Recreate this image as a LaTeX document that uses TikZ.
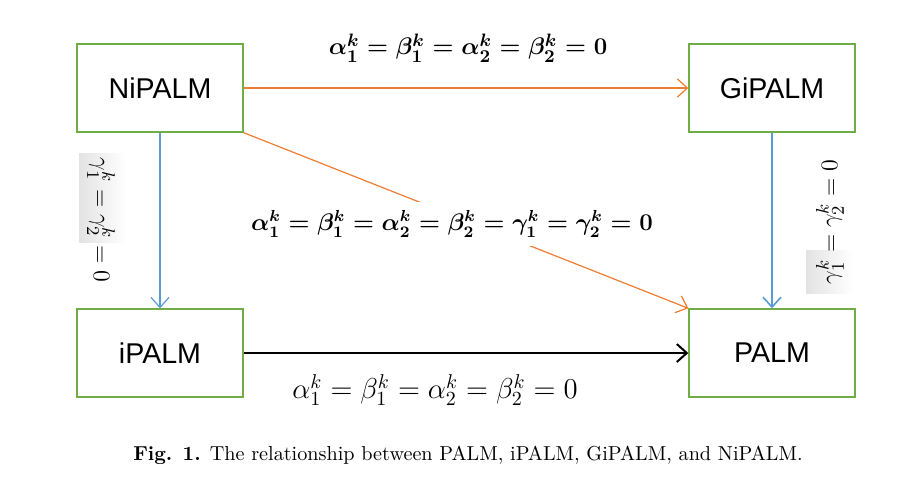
\documentclass[tikz,border=0pt]{standalone}
\usepackage{amsmath}
\usepackage{fontspec}
\newfontfamily\boxfont{Liberation Sans}
\usepackage{tikz}
\usetikzlibrary{arrows.meta,calc,positioning}
\definecolor{boxgreen}{RGB}{112,173,71}
\definecolor{arrorange}{RGB}{237,125,49}
\definecolor{arrblue}{RGB}{91,155,213}
\tikzset{>={Straight Barb[length=5pt,width=9pt]}}
\tikzstyle{algo}=[
	 rectangle, draw=boxgreen, line width=0.7pt,
	 minimum width=83pt, minimum height=44pt,
	 font=\boxfont\fontsize{14.3}{16}\selectfont
    ]
\tikzstyle{cond}=[
	 inner sep=1pt, font=\fontsize{13}{15}\selectfont
    ]
\newcommand{\pArr}[3]{\draw[->,#1] (#2) -- (#3)}

\begin{document}
\begin{tikzpicture}[x=0.5pt,y=-0.5pt]
\useasboundingbox (0,0) rectangle (909,495);

\node[algo] (NiPALM) at (160,88) {NiPALM};
\node[algo] (GiPALM) at (772,88) {GiPALM};
\node[algo] (iPALM) at (160,353) {iPALM};
\node[algo] (PALM) at (772,353) {PALM};

\pArr{arrorange,line width=0.6pt}{NiPALM.east}{GiPALM.west};
\pArr{arrorange,line width=0.6pt}{NiPALM.south east}{PALM.north west};
\pArr{arrblue,line width=0.6pt}{NiPALM.south}{iPALM.north};
\pArr{arrblue,line width=0.8pt}{GiPALM.south}{PALM.north};
\pArr{black,line width=1pt}{iPALM.east}{PALM.west};

% screenshot shading behind the gammas
\shade[left color=gray!22,right color=white] (79,153) rectangle (126,242);
\shade[left color=gray!22,right color=white] (806,250) rectangle (853,293);

\node[cond,font=\boldmath\fontsize{12.8}{15}\selectfont] (condTop) at (468,48) {$\alpha_1^k=\beta_1^k=\alpha_2^k=\beta_2^k=0$};
\node[cond,fill=white,inner sep=4pt,font=\boldmath\fontsize{11.9}{14}\selectfont] (condMid) at (452,224) {$\alpha_1^k=\beta_1^k=\alpha_2^k=\beta_2^k=\gamma_1^k=\gamma_2^k=0$};
\node[cond,font=\fontsize{14}{16}\selectfont] (condBot) at (435,390) {$\alpha_1^k=\beta_1^k=\alpha_2^k=\beta_2^k=0$};
\node[cond,rotate=-90,font=\fontsize{12.5}{15}\selectfont] (condLeft) at (101,220) {$\gamma_1^k=\gamma_2^k=0$};
\node[cond,rotate=90,font=\fontsize{12.5}{15}\selectfont] (condRight) at (830,222) {$\gamma_1^k=\gamma_2^k=0$};

\node[font=\fontsize{10.1}{13}\selectfont] (caption) at (468,455) {\textbf{Fig. 1.} The relationship between PALM, iPALM, GiPALM, and NiPALM.};

\end{tikzpicture}
\end{document}
